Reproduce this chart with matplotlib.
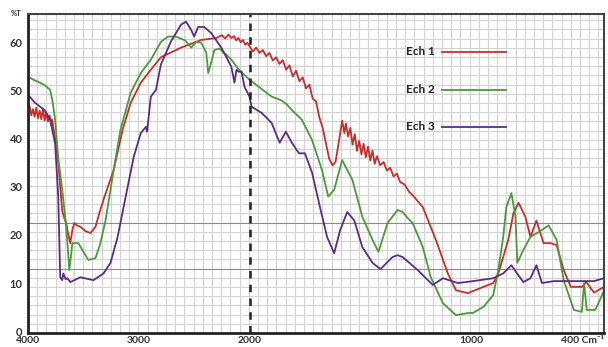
import numpy as np
import matplotlib
matplotlib.use("Agg")
import matplotlib.pyplot as plt

plt.rcParams['font.family'] = ['Lato', 'DejaVu Sans']

# spectres IR (nombre d'onde cm-1, transmittance %)
wn_ech1 = [4000, 3985, 3970, 3955, 3940, 3925, 3910, 3895, 3880, 3865, 3850, 3835, 3820, 3805,
           3790, 3782, 3755, 3727, 3709, 3691, 3673, 3655, 3640, 3618, 3600, 3582, 3560, 3527,
           3480, 3436, 3391, 3350, 3309, 3227, 3145, 3073, 2982, 2891, 2800, 2618, 2436, 2300,
           2250, 2220, 2190, 2164, 2140, 2120, 2100, 2080, 2060, 2040, 2020,
           2000, 1985, 1970, 1955, 1940, 1925, 1910, 1895, 1880, 1865, 1850, 1835, 1820, 1805,
           1790, 1775, 1760, 1745, 1730, 1715, 1700, 1685, 1670, 1655, 1640, 1625, 1612, 1600,
           1590, 1582, 1572, 1565, 1555, 1545, 1535, 1525, 1515, 1505, 1495, 1485, 1475, 1465,
           1455, 1445, 1435, 1425, 1410, 1395, 1380, 1365, 1350, 1335, 1320, 1300, 1280, 1264,
           1218, 1159, 1105, 1068, 1014, 955, 900, 877, 832, 809, 786, 755, 732, 705, 673, 641,
           614, 582, 550, 500, 480, 445, 400]
t_ech1 = [45.6, 46.8, 44.9, 46.2, 44.6, 46.5, 44.3, 45.9, 44.1, 46.3, 43.8, 45.5, 43.6, 44.9,
          42.8, 44.0, 40.0, 35.0, 30.0, 25.0, 23.5, 22.5, 20.5, 18.3, 21.0, 22.5, 22.0, 21.7,
          20.8, 20.4, 21.7, 25.0, 28.0, 33.5, 42.0, 47.5, 51.7, 54.4, 57.0, 59.0, 60.6, 61.0,
          61.6, 60.9, 61.7, 61.0, 61.4, 60.5, 61.0, 60.1, 60.6, 59.6, 60.0,
          59.3, 58.2, 59.0, 57.9, 58.5, 57.2, 57.9, 56.3, 57.0, 55.6, 56.4, 54.4, 55.3, 53.0,
          54.2, 52.0, 52.8, 50.5, 51.3, 48.4, 47.8, 44.5, 42.3, 39.0, 35.8, 34.5, 35.2, 38.5,
          41.5, 43.8, 41.2, 43.2, 40.5, 42.3, 38.8, 41.0, 37.5, 39.6, 36.8, 39.0, 36.2, 38.4,
          35.5, 37.6, 34.8, 36.4, 34.5, 35.2, 33.4, 34.0, 32.2, 32.8, 31.0, 30.5, 29.0, 28.3,
          25.8, 19.0, 12.0, 8.5, 7.9, 9.0, 10.0, 12.0, 19.0, 24.5, 26.7, 23.8, 19.6, 23.0, 18.3, 18.3,
          17.9, 12.7, 9.2, 9.2, 10.2, 8.0, 9.2]

wn_ech2 = [4000, 3950, 3891, 3850, 3800, 3780, 3755, 3727, 3691, 3655, 3640, 3627, 3610, 3600,
           3545, 3500, 3455, 3391, 3350, 3300, 3227, 3164, 3073, 2982, 2891, 2800, 2736, 2664,
           2580, 2527, 2480, 2436, 2391, 2373, 2345, 2318, 2273, 2209, 2164, 2100, 2000, 1900,
           1855, 1832, 1809, 1764, 1718, 1673, 1645, 1618, 1582, 1536, 1491, 1445, 1418, 1377,
           1332, 1309, 1286, 1264, 1218, 1182, 1127, 1068, 1014, 991, 945, 900, 877, 855, 841,
           818, 800, 791, 764, 732, 695, 650, 614, 582, 536, 500, 490, 478, 460, 440, 418, 400]
t_ech2 = [53.0, 52.3, 51.7, 51.2, 50.2, 48.0, 44.0, 36.0, 29.4, 21.7, 17.0, 12.7, 16.0, 18.3,
          18.3, 16.5, 14.8, 15.2, 18.0, 23.0, 33.5, 42.0, 49.6, 53.7, 56.5, 60.2, 61.3, 61.3,
          60.5, 59.0, 60.2, 60.0, 58.0, 53.7, 56.0, 58.5, 58.8, 57.5, 56.5, 54.5, 52.3, 48.8,
          48.0, 47.2, 46.0, 44.0, 39.8, 33.5, 28.0, 29.4, 35.6, 31.5, 23.8, 19.0, 16.5, 22.5,
          25.2, 24.8, 23.5, 22.5, 17.5, 11.2, 5.8, 3.3, 3.75, 3.8, 5.0, 7.5, 12.7, 19.6, 25.8,
          28.7, 24.0, 14.2, 16.9, 19.6, 20.6, 22.0, 19.0, 10.6, 4.4, 4.0, 10.0, 4.4, 4.4, 4.4, 6.5, 8.5]

wn_ech3 = [4000, 3936, 3850, 3800, 3755, 3727, 3709, 3691, 3682, 3660, 3645, 3618, 3527, 3409,
           3318, 3255, 3191, 3118, 3045, 2982, 2936, 2925, 2891, 2845, 2800, 2709, 2618, 2573,
           2527, 2500, 2464, 2409, 2345, 2255, 2209, 2164, 2136, 2118, 2100, 2073, 2045, 2000,
           1991, 1945, 1900, 1864, 1836, 1809, 1777, 1750, 1718, 1682, 1650, 1618, 1591, 1559,
           1527, 1491, 1445, 1409, 1355, 1332, 1309, 1286, 1241, 1173, 1127, 1059, 991, 900, 855,
           818, 800, 764, 732, 705, 680, 627, 536, 445, 400]
t_ech3 = [49.2, 47.5, 46.0, 44.0, 39.0, 28.0, 11.2, 10.6, 12.0, 10.8, 11.0, 10.2, 11.2, 10.6,
          12.0, 14.2, 19.6, 28.0, 36.3, 41.2, 42.5, 41.5, 48.8, 50.2, 55.5, 60.3, 63.8, 64.4,
          62.7, 61.3, 63.3, 63.3, 62.0, 59.0, 57.0, 55.0, 51.7, 54.4, 54.0, 54.0, 50.8, 48.8,
          46.7, 45.4, 43.3, 39.2, 41.5, 39.2, 37.0, 37.0, 33.0, 25.8, 19.6, 16.2, 21.0, 24.8,
          23.0, 17.5, 14.2, 12.9, 15.4, 15.8, 15.4, 14.5, 12.7, 9.6, 11.0, 10.0, 10.4, 11.0, 12.0,
          13.7, 12.5, 10.2, 11.0, 13.7, 10.0, 10.4, 10.4, 10.4, 11.0]

labels = ['Ech 1', 'Ech 2', 'Ech 3']
colors = ['#c4302b', '#4a9a3c', '#5a2d82']
y_ticks = [0, 10, 20, 30, 40, 50, 60]
x_ticks = [4000, 3000, 2000, 1000, 400]
x_ticklabels = ['4000', '3000', '2000', '1000', '400 Cm\u207b\u00b9']


# echelle double : 4000-2000 compressee de moitie
def fwd(w):
    w = np.asarray(w, dtype=float)
    return np.where(w >= 2000, w, 2 * w - 2000)


def inv(u):
    u = np.asarray(u, dtype=float)
    return np.where(u >= 2000, u, (u + 2000) / 2)


fig = plt.figure(figsize=(6.08, 3.47), dpi=100)
rect = [28 / 608, 14 / 347, 576 / 608, 319 / 347]

# papier millimetre en fond
bg = fig.add_axes(rect, zorder=0)
ncol, nrow = 576 / 9.2, 319 / 9.2
bg.set_xlim(0, ncol)
bg.set_ylim(0, nrow)
for i in range(1, int(ncol) + 1):
    bg.axvline(i, color='#d2d2d2', lw=0.8)
for j in range(1, int(nrow) + 1):
    c = '#8a8a8a' if j in (7, 12) else '#d2d2d2'
    bg.axhline(j, color=c, lw=0.8)
bg.set_xticks([])
bg.set_yticks([])
for s in bg.spines.values():
    s.set_visible(False)

ax = fig.add_axes(rect, zorder=1)
ax.patch.set_visible(False)
ax.set_xscale('function', functions=(fwd, inv))

for wn, t, c in zip([wn_ech1, wn_ech2, wn_ech3], [t_ech1, t_ech2, t_ech3], colors):
    ax.plot(wn, t, color=c, lw=1.3)

ax.axvline(2000, color='#222222', lw=1.8, ls=(0, (3, 2.5)))

ax.set_xlim(4000, 400)
ax.set_ylim(-0.4, 66)
ax.set_xticks(x_ticks)
ax.set_xticklabels(x_ticklabels)
ax.xaxis.set_minor_locator(matplotlib.ticker.NullLocator())
ax.set_yticks(y_ticks)
ax.tick_params(length=0, labelsize=8, colors='#333333')
ax.tick_params(axis='x', pad=2.5, labelsize=7.5)
ax.tick_params(axis='y', pad=4)
for lab in ax.get_xticklabels() + ax.get_yticklabels():
    lab.set_fontweight('bold')
ax.get_xticklabels()[-1].set_horizontalalignment('right')

for side in ['left', 'bottom']:
    ax.spines[side].set_linewidth(2)
    ax.spines[side].set_color('#222222')
for side in ['top', 'right']:
    ax.spines[side].set_linewidth(1.5)
    ax.spines[side].set_color('#444444')

ax.text(-0.012, 1.0, '%T', transform=ax.transAxes, ha='right', va='center',
        fontsize=5.5, fontweight='bold', color='#333333')

# legende manuelle
for k, (lab, c) in enumerate(zip(labels, colors)):
    yy = [0.881, 0.762, 0.646][k]
    ax.text(0.656, yy, lab, transform=ax.transAxes, ha='left', va='center',
            fontsize=8.5, fontweight='bold', color='#222222')
    ax.plot([0.719, 0.830], [yy, yy], transform=ax.transAxes, color=c, lw=1.3)

fig.savefig('out.png', dpi=100)
